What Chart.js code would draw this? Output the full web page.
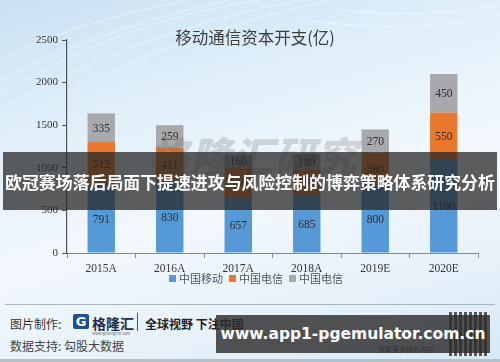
<!DOCTYPE html>
<html lang="zh">
<head>
<meta charset="UTF-8">
<title>移动通信资本开支</title>
<script src="https://cdn.jsdelivr.net/npm/chart.js"></script>
<style>
  html, body { margin: 0; padding: 0; }
  body {
    width: 500px; height: 362px; position: relative; overflow: hidden;
    background: linear-gradient(165deg, #c9e1f3 0%, #e2f0fa 30%, #f2f8fd 55%, #e6f1fa 80%, #d6e8f6 100%);
    font-family: "Noto Sans CJK SC", sans-serif;
  }
  #swoosh { position: absolute; left: 0; top: 0; }
  #chart { position: absolute; left: 0; top: 0; }
  #legend {
    position: absolute; top: 271px; left: 169px; height: 14px;
    display: flex; align-items: center; font-size: 11px; color: #555; white-space: nowrap;
  }
  #legend span.box { display: inline-block; width: 7px; height: 7px; margin-right: 3px; }
  #legend span.item { margin-right: 6px; display: inline-flex; align-items: center; }
  #mark {
    position: absolute; left: 148px; top: 124px; font-size: 41px; font-weight: 900;
    font-style: italic; color: rgba(90, 90, 90, 0.22); letter-spacing: 1px; white-space: nowrap;
  }
  #banner {
    position: absolute; left: 3px; top: 152px; width: 494px; height: 58px;
    background: rgba(38, 38, 38, 0.74); color: #fff; font-weight: 700; font-size: 16.9px;
    display: flex; align-items: center; justify-content: center; white-space: nowrap;
  }
  #footer-line { position: absolute; left: 5px; top: 304px; width: 490px; height: 1px; background: #a9b6c2; }
  #footer-bottom { position: absolute; left: 0; top: 359px; width: 500px; height: 3px; background: #b5bfc8; }
  .ft { position: absolute; font-size: 12px; color: #333; white-space: nowrap; }
  #logo-g {
    position: absolute; left: 73px; top: 314px; width: 16px; height: 15px; background: #1f4f8f;
    border-radius: 2px; color: #fff; font: 700 13px "DejaVu Sans", sans-serif; text-align: center; line-height: 15px;
  }
  #logo-sep { position: absolute; left: 137px; top: 313px; width: 1px; height: 18px; background: #555; }
  #qr {
    position: absolute; left: 449px; top: 312px; width: 40px; height: 44px;
    background: repeating-linear-gradient(90deg, #333 0 3px, #eee 3px 5px), #333;
    opacity: 0.8;
  }
  #url {
    position: absolute; left: 216px; top: 315px; width: 274px; height: 38px;
    background: rgba(45, 45, 45, 0.82); color: #fff; font: 700 15.5px "DejaVu Sans", sans-serif;
    display: flex; align-items: center; justify-content: center; white-space: nowrap;
  }
</style>
</head>
<body>
<svg id="swoosh" width="500" height="150" viewBox="0 0 500 150">
  <g fill="none" stroke="#ffffff" stroke-opacity="0.55" stroke-width="0.8">
    <path d="M0 95 Q120 20 260 0"/>
    <path d="M0 80 Q110 25 230 0"/>
    <path d="M0 110 Q140 30 300 0"/>
    <path d="M20 120 Q150 40 330 0"/>
    <path d="M0 60 Q80 20 190 0"/>
    <path d="M340 10 Q420 20 500 5"/>
    <path d="M300 20 Q420 35 500 15"/>
  </g>
</svg>
<canvas id="chart" width="500" height="300"></canvas>
<div id="legend"></div>
<div id="mark">格隆汇研究</div>
<div id="banner">欧冠赛场落后局面下提速进攻与风险控制的博弈策略体系研究分析</div>

<div id="footer-line"></div>
<div class="ft" style="left:10px; top:315px;">图片制作:</div>
<div id="logo-g">G</div>
<div class="ft" style="left:92px; top:313px; font-weight:700; font-size:14px; color:#1d2e4a;">格隆汇</div>
<div class="ft" style="left:92px; top:330px; font-size:4px; color:#666;">www.gelonghui.com</div>
<div id="logo-sep"></div>
<div class="ft" style="left:145px; top:315px; font-weight:700; color:#222;">全球视野 下注中国</div>
<div class="ft" style="left:10px; top:337px; color:#444;">数据支持: 勾股大数据</div>
<div class="ft" style="left:378px; top:344px; font-size:7px; color:#555;">获取更多精彩内容</div>
<div id="qr"></div>
<div id="url">www.app1-pgemulator.com.cn</div>
<div id="footer-bottom"></div>

<script>
  const categories = ['2015A', '2016A', '2017A', '2018A', '2019E', '2020E'];
  const mobile = [791, 830, 657, 685, 800, 1100];
  const telecom = [512, 411, 340, 290, 380, 550];
  const unicom = [335, 259, 160, 189, 270, 450];
  const seriesNames = ['中国移动', '中国电信', '中国电信'];
  const seriesColors = ['#5599d6', '#e8792c', '#a7a9ac'];
  const yTicks = [0, 500, 1000, 1500, 2000, 2500];

  // segment values in the middle of each bar piece
  const segmentLabels = {
    id: 'segmentLabels',
    afterDatasetsDraw(chart) {
      const ctx = chart.ctx;
      ctx.save();
      ctx.font = '11.5px "Liberation Serif", serif';
      ctx.fillStyle = '#2d2d2d';
      ctx.textAlign = 'center';
      ctx.textBaseline = 'middle';
      chart.data.datasets.forEach((ds, i) => {
        chart.getDatasetMeta(i).data.forEach((bar, j) => {
          const p = bar.getProps(['x', 'y', 'base'], true);
          ctx.fillText(ds.data[j], p.x, (p.y + p.base) / 2 + 1);
        });
      });
      ctx.restore();
    }
  };

  const chartTitle = {
    id: 'chartTitle',
    afterDraw(chart) {
      const ctx = chart.ctx;
      ctx.save();
      ctx.font = '16.5px "Noto Sans CJK SC", sans-serif';
      ctx.fillStyle = '#3c3c3c';
      ctx.textAlign = 'center';
      ctx.textBaseline = 'middle';
      ctx.fillText('移动通信资本开支(亿)', 255, 38);
      ctx.restore();
    }
  };

  const chart = new Chart(document.getElementById('chart'), {
    type: 'bar',
    data: {
      labels: categories,
      datasets: [
        { label: seriesNames[0], data: mobile, backgroundColor: seriesColors[0] },
        { label: seriesNames[1], data: telecom, backgroundColor: seriesColors[1] },
        { label: seriesNames[2], data: unicom, backgroundColor: seriesColors[2] }
      ]
    },
    options: {
      responsive: false,
      animation: false,
      layout: { padding: { top: 40, right: 22, bottom: 27, left: 0 } },
      datasets: { bar: { barPercentage: 0.4, categoryPercentage: 1 } },
      plugins: {
        legend: { display: false },
        tooltip: { enabled: false }
      },
      scales: {
        x: {
          stacked: true,
          afterFit: s => { s.height = 20; },
          border: { color: '#888', width: 1 },
          grid: { drawOnChartArea: false, tickLength: 5, color: '#888' },
          ticks: { padding: 4, color: '#333', font: { family: '"Liberation Serif", serif', size: 11.5 } }
        },
        y: {
          stacked: true,
          min: 0,
          max: 2500,
          afterFit: s => { s.width = 67; },
          afterBuildTicks: s => { s.ticks = yTicks.map(v => ({ value: v })); },
          border: { color: '#555', width: 1.2 },
          grid: { drawOnChartArea: false, tickLength: 5, color: '#555' },
          ticks: {
            padding: 4, color: '#333',
            font: { family: '"Liberation Serif", serif', size: 11 },
            callback: v => String(v)
          }
        }
      }
    },
    plugins: [segmentLabels, chartTitle]
  });

  // legend built from the chart's datasets
  const legend = document.getElementById('legend');
  chart.data.datasets.forEach(ds => {
    const item = document.createElement('span');
    item.className = 'item';
    item.innerHTML = '<span class="box" style="background:' + ds.backgroundColor + '"></span>' + ds.label;
    legend.appendChild(item);
  });
</script>
</body>
</html>
